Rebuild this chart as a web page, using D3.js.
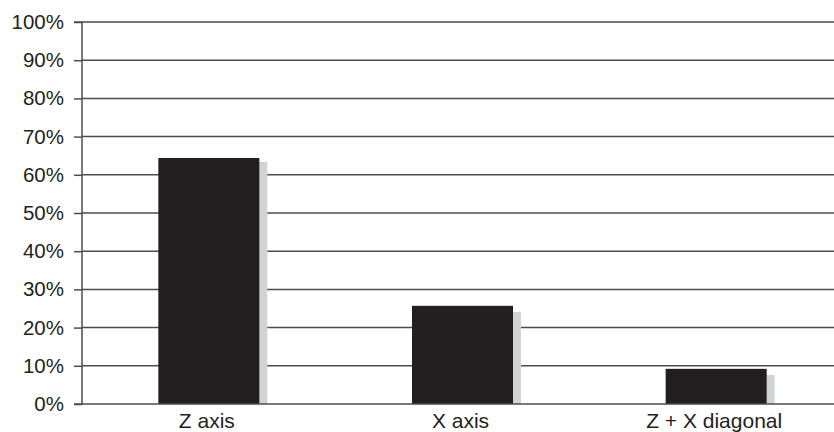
<!DOCTYPE html>
<html><head><meta charset="utf-8">
<script src="https://cdn.jsdelivr.net/npm/d3@7"></script>
<style>body{margin:0;background:#fff;}svg{display:block;}</style>
</head><body><svg id="c" width="834" height="432"></svg>
<script>
const categories = ["Z axis", "X axis", "Z + X diagonal"];
const frontValues = [64.4, 25.7, 9.2];
const backValues = [63.4, 24.1, 7.6];
const yTicks = [0, 10, 20, 30, 40, 50, 60, 70, 80, 90, 100];

(function(){
const svg = d3.select("#c");
const mL = 82, mR = 843, mT = 22, mB = 404;
const x = d3.scaleBand().domain(categories).range([mL, mR]).paddingInner(0).paddingOuter(0);
const y = d3.scaleLinear().domain([0, 100]).range([mB, mT]);
const barW = 101, shadowOff = 8;
const textColor = "#231f20";

// gridlines
svg.append("g").selectAll("line").data(yTicks.filter(d => d > 0)).join("line")
  .attr("x1", mL).attr("x2", 834)
  .attr("y1", d => y(d)).attr("y2", d => y(d))
  .attr("stroke", "#4d4d4f").attr("stroke-width", 1.5);

// shadow bars
svg.append("g").selectAll("rect").data(categories).join("rect")
  .attr("x", (d) => x(d) + x.bandwidth()/2 - barW/2 + shadowOff)
  .attr("width", barW)
  .attr("y", (d, i) => y(backValues[i]))
  .attr("height", (d, i) => y(0) - y(backValues[i]))
  .attr("fill", "#d1d3d4");

// front bars
svg.append("g").selectAll("rect").data(categories).join("rect")
  .attr("x", (d) => x(d) + x.bandwidth()/2 - barW/2)
  .attr("width", barW)
  .attr("y", (d, i) => y(frontValues[i]))
  .attr("height", (d, i) => y(0) - y(frontValues[i]))
  .attr("fill", "#231f20");

// y axis
const yAxis = d3.axisLeft(y).tickValues(yTicks).tickFormat(d => d + "%").tickSize(8).tickPadding(10);
const ga = svg.append("g").attr("transform", `translate(${mL},0)`).call(yAxis);
ga.select(".domain").attr("stroke", "#4d4d4f").attr("stroke-width", 1.5).attr("d", `M-8,${mT}H0V${mB}H-8`);
ga.selectAll(".tick line").attr("stroke", "#4d4d4f").attr("stroke-width", 1.5);
ga.selectAll(".tick text").attr("fill", textColor).style("font-family", "'Liberation Sans', Arial, sans-serif").style("font-size", "20.5px");

// baseline
svg.append("line").attr("x1", mL).attr("x2", 834).attr("y1", y(0)).attr("y2", y(0))
  .attr("stroke", "#4d4d4f").attr("stroke-width", 1.5);

// x labels
svg.append("g").selectAll("text").data(categories).join("text")
  .attr("x", d => x(d) + x.bandwidth()/2 - 2)
  .attr("y", 428)
  .attr("text-anchor", "middle")
  .attr("fill", textColor)
  .style("font-family", "'Liberation Sans', Arial, sans-serif")
  .style("font-size", "21px")
  .text(d => d);
})();
</script></body></html>
